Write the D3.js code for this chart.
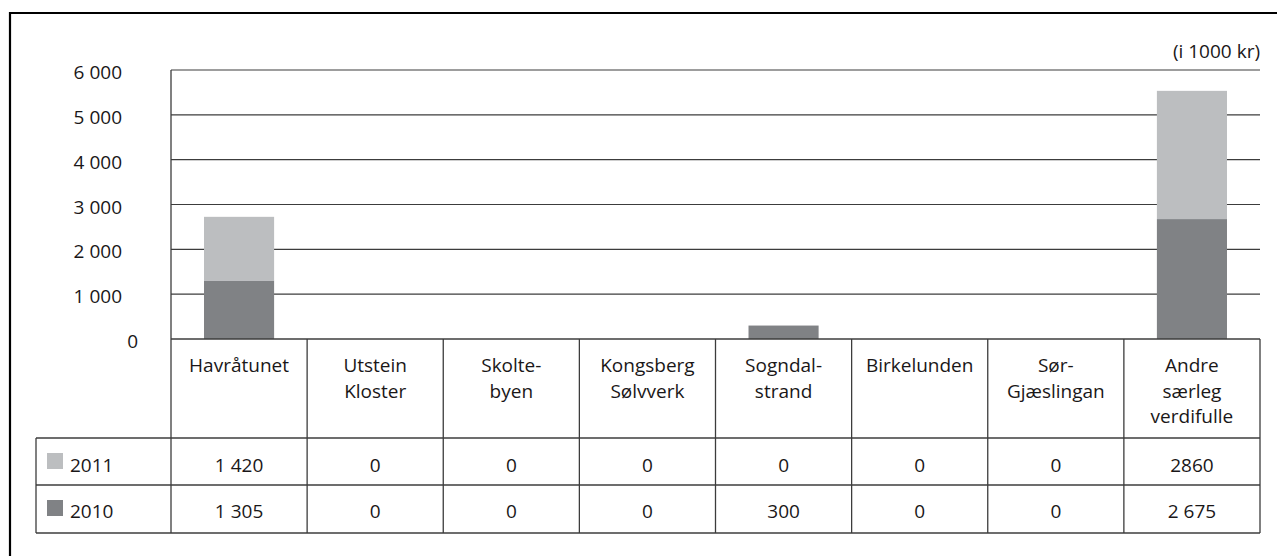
<!DOCTYPE html>
<html>
<head>
<meta charset="utf-8">
<script src="https://cdn.jsdelivr.net/npm/d3@7"></script>
<style>
  html, body { margin: 0; padding: 0; background: #fff; }
  svg { display: block; }
  text { font-family: "Open Sans", "Noto Sans", sans-serif; fill: #1a1718; }
</style>
</head>
<body>
<svg id="chart" width="1277" height="556"></svg>
<script>
const categories = ["Havråtunet", "Utstein Kloster", "Skoltebyen", "Kongsberg Sølvverk", "Sogndalstrand", "Birkelunden", "Sør-Gjæslingan", "Andre særleg verdifulle"];
const categoryLines = [["Havråtunet"], ["Utstein", "Kloster"], ["Skolte-", "byen"], ["Kongsberg", "Sølvverk"], ["Sogndal-", "strand"], ["Birkelunden"], ["Sør-", "Gjæslingan"], ["Andre", "særleg", "verdifulle"]];
const seriesNames = ["2011", "2010"];
const values2011 = [1420, 0, 0, 0, 0, 0, 0, 2860];
const values2010 = [1305, 0, 0, 0, 300, 0, 0, 2675];
const tableLabels2011 = ["1 420", "0", "0", "0", "0", "0", "0", "2860"];
const tableLabels2010 = ["1 305", "0", "0", "0", "300", "0", "0", "2 675"];
const yTicks = [0, 1000, 2000, 3000, 4000, 5000, 6000];
const yTickLabels = ["0", "1 000", "2 000", "3 000", "4 000", "5 000", "6 000"];
const unitLabel = "(i 1000 kr)";

const colors = { "2011": "#bcbec0", "2010": "#808285" };
const lineColor = "#3c3c3c";
const fontSize = 19;

const svg = d3.select("#chart");

const plotLeft = 171, plotRight = 1260, plotTop = 70, plotBottom = 339;
const tableLeft = 36;
const headerBottom = 438, row1Bottom = 485, row2Bottom = 533;

const x = d3.scaleBand().domain(categories).range([plotLeft, plotRight]).paddingInner(0.485).paddingOuter(0.2425);
const xCol = d3.scaleBand().domain(categories).range([plotLeft, plotRight]).padding(0);
const y = d3.scaleLinear().domain([0, 6000]).range([plotBottom, plotTop]);

// Outer frame (cropped on right and bottom)
svg.append("path")
  .attr("d", `M10,${1290} V13 H1290`)
  .attr("fill", "none").attr("stroke", "#000").attr("stroke-width", 2.2);

// gridlines
svg.append("g").selectAll("line").data(yTicks.filter(d => d > 0)).join("line")
  .attr("x1", plotLeft).attr("x2", plotRight)
  .attr("y1", d => y(d)).attr("y2", d => y(d))
  .attr("stroke", lineColor).attr("stroke-width", 1.2);

// y tick labels
svg.append("g").selectAll("text").data(yTicks).join("text")
  .attr("x", d => d === 0 ? 138 : 122)
  .attr("y", d => y(d) + 9)
  .attr("text-anchor", "end")
  .attr("font-size", fontSize)
  .text((d, i) => yTickLabels[i]);

// unit label
svg.append("text").attr("x", 1260).attr("y", 58).attr("text-anchor", "end")
  .attr("font-size", fontSize).text(unitLabel);

// stacked bars
const stackData = categories.map((c, i) => ({ cat: c, "2010": values2010[i], "2011": values2011[i] }));
const stacked = d3.stack().keys(["2010", "2011"])(stackData);
svg.append("g").selectAll("g").data(stacked).join("g")
  .attr("fill", d => colors[d.key])
  .selectAll("rect").data(d => d.filter(s => s[1] - s[0] > 0)).join("rect")
  .attr("x", d => x(d.data.cat))
  .attr("width", x.bandwidth())
  .attr("y", d => y(d[1]))
  .attr("height", d => y(d[0]) - y(d[1]));

// Table lines
const tg = svg.append("g").attr("stroke", lineColor).attr("stroke-width", 1.3);
tg.append("line").attr("x1", plotLeft).attr("x2", plotLeft).attr("y1", plotTop).attr("y2", row2Bottom);
tg.append("line").attr("x1", plotLeft).attr("x2", plotRight).attr("y1", plotBottom).attr("y2", plotBottom);
[headerBottom, row1Bottom, row2Bottom].forEach(yy => {
  tg.append("line").attr("x1", tableLeft).attr("x2", plotRight).attr("y1", yy).attr("y2", yy);
});
tg.append("line").attr("x1", tableLeft).attr("x2", tableLeft).attr("y1", headerBottom).attr("y2", row2Bottom);
categories.forEach(c => {
  const xx = xCol(c) + xCol.bandwidth();
  tg.append("line").attr("x1", xx).attr("x2", xx).attr("y1", plotBottom).attr("y2", row2Bottom);
});

// header labels
const hg = svg.append("g");
categories.forEach((c, i) => {
  const cx = xCol(c) + xCol.bandwidth() / 2;
  const t = hg.append("text").attr("text-anchor", "middle").attr("font-size", fontSize);
  categoryLines[i].forEach((ln, j) => {
    t.append("tspan").attr("x", cx).attr("y", 372 + j * 25.5).text(ln);
  });
});

// data rows
const rows = [
  { name: seriesNames[0], labels: tableLabels2011, base: 472, swTop: 453 },
  { name: seriesNames[1], labels: tableLabels2010, base: 518, swTop: 500 }
];
rows.forEach(r => {
  svg.append("rect").attr("x", 47).attr("y", r.swTop).attr("width", 16).attr("height", 16).attr("fill", colors[r.name]);
  svg.append("text").attr("x", 70).attr("y", r.base).attr("font-size", fontSize).text(r.name);
  svg.append("g").selectAll("text").data(categories).join("text")
    .attr("x", c => xCol(c) + xCol.bandwidth() / 2)
    .attr("y", r.base)
    .attr("text-anchor", "middle")
    .attr("font-size", fontSize)
    .text((c, i) => r.labels[i]);
});
</script>
</body>
</html>
